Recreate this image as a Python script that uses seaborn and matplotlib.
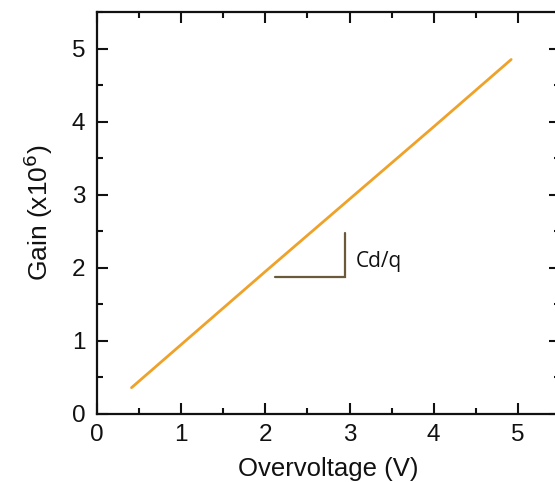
import matplotlib
matplotlib.use("Agg")
import matplotlib.pyplot as plt
from matplotlib.ticker import MultipleLocator
import seaborn as sns
import pandas as pd

overvoltage = [0.41, 1.0, 2.0, 3.0, 4.0, 4.92]
gain = [0.36, 0.95, 1.95, 2.94, 3.93, 4.85]

# slope marker "Cd/q"
bracket_x = [2.11, 2.95, 2.95]
bracket_y = [1.87, 1.87, 2.47]
bracket_text = "Cd/q"

df = pd.DataFrame({"Overvoltage": overvoltage, "Gain": gain})

sns.set_style("ticks")
plt.rcParams["font.family"] = ["Liberation Sans", "DejaVu Sans"]

fig = plt.figure(figsize=(5.55, 4.82), dpi=100)
ax = fig.add_axes([97 / 555, 68 / 482, 463 / 555, 402 / 482])

sns.lineplot(data=df, x="Overvoltage", y="Gain", color="#EFA22A", lw=2, ax=ax)

ax.plot(bracket_x, bracket_y, color="#6b5a3a", lw=1.6, solid_joinstyle="miter")
ax.text(3.07, 2.08, bracket_text, fontsize=15, family=["Open Sans", "DejaVu Sans"],
        color="#111111", va="center", ha="left")

ax.set_xlim(0, 5.5)
ax.set_ylim(0, 5.5)
ax.xaxis.set_major_locator(MultipleLocator(1))
ax.xaxis.set_minor_locator(MultipleLocator(0.5))
ax.yaxis.set_major_locator(MultipleLocator(1))
ax.yaxis.set_minor_locator(MultipleLocator(0.5))
ax.tick_params(which="both", direction="in", top=True, right=True, width=1.5, color="#111111")
ax.tick_params(which="major", length=8)
ax.tick_params(which="minor", length=4)
ax.tick_params(axis="y", which="major", pad=8.5, labelsize=17.5, labelcolor="#111111")
ax.tick_params(axis="x", which="major", pad=7, labelsize=17.5, labelcolor="#111111")
for sp in ax.spines.values():
    sp.set_linewidth(1.6)
    sp.set_color("#111111")

ax.set_xlabel("Overvoltage (V)", fontsize=18.5, color="#111111", labelpad=8)
ax.set_ylabel("Gain (x10$^6$)", fontsize=19, color="#111111", labelpad=12)

fig.savefig("out.png", dpi=100)
